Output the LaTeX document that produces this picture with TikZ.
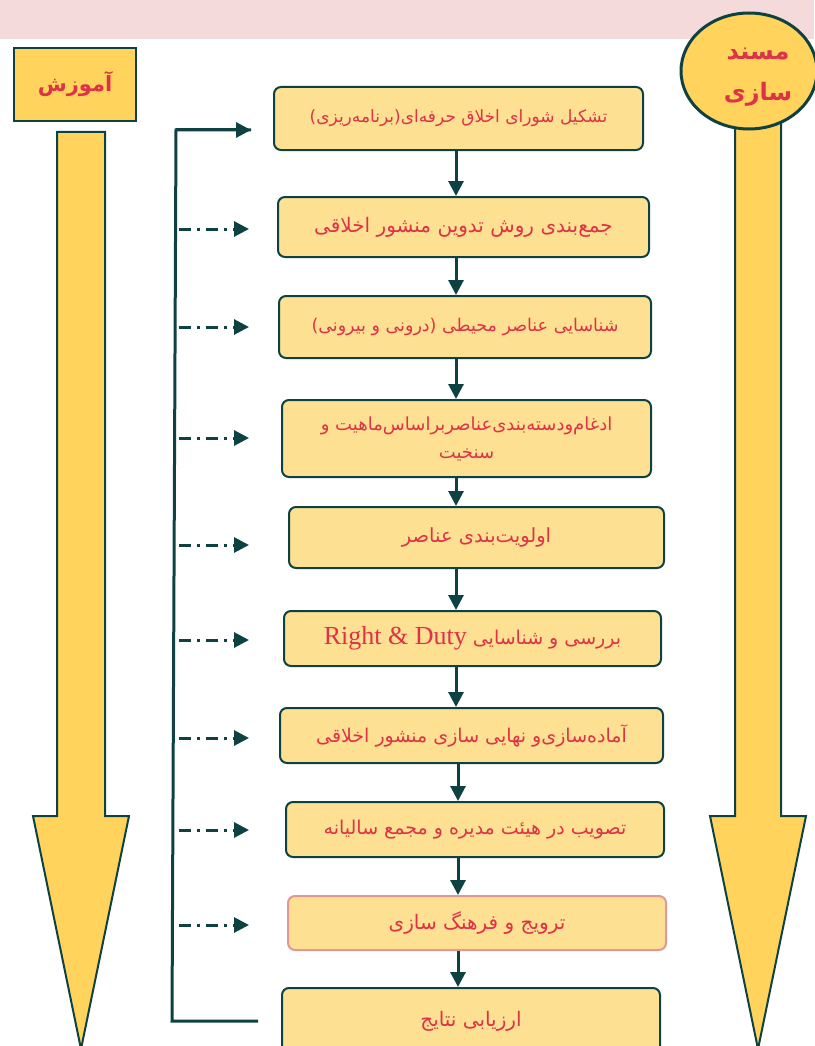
\documentclass[tikz,border=0pt]{standalone}
\usepackage{fontspec}
\usetikzlibrary{arrows.meta,shapes.geometric}
\TeXXeTstate=1
\newfontfamily\fa[Script=Arabic]{DejaVu Sans}
\newfontfamily\lat{Liberation Serif}
\definecolor{band}{RGB}{244,218,219}
\definecolor{boxfill}{RGB}{253,224,146}
\definecolor{bigfill}{RGB}{255,211,92}
\definecolor{edge}{RGB}{14,66,66}
\definecolor{txt}{RGB}{222,50,72}
\definecolor{pinkedge}{RGB}{226,150,150}
\newcommand{\fs}[1]{\fontsize{#1}{28}\selectfont}
\tikzset{
  stepbox/.style={draw=edge, line width=2pt, fill=boxfill, rounded corners=7pt,
    text=txt, font=\fa\fs{18}, align=center, inner sep=2pt},
  flow/.style={draw=edge, line width=3pt, -{Triangle[length=15pt,width=15pt]}},
  side/.style={draw=edge, line width=3pt, dash pattern=on 12pt off 6pt on 3pt off 6pt, -{Triangle[length=15pt,width=15pt]}},
  bracket/.style={draw=edge, line width=3pt},
  bigarrow/.style={draw=edge, line width=2pt, fill=bigfill, line join=miter},
}
\begin{document}
\begin{tikzpicture}[x=1pt,y=-1pt]
\useasboundingbox (0,0) rectangle (814,1046);
\fill[band] (0,0) rectangle (814,39);

% big arrows
\path[bigarrow] (57,132) -- (105,132) -- (105,816) -- (129,816) -- (81,1049) -- (33,816) -- (57,816) -- cycle;
\path[bigarrow] (735,100) -- (781,100) -- (781,816) -- (806,816) -- (758,1049) -- (710,816) -- (735,816) -- cycle;

% title boxes
\node[draw=edge, line width=2pt, fill=bigfill, minimum width=122pt, minimum height=73pt, text=txt,
  font=\fa\bfseries\fontsize{21}{24}\selectfont] (edu) at (75,84.5) {\beginR آموزش\endR};
\node[ellipse, draw=edge, line width=3pt, fill=bigfill, minimum width=136pt, minimum height=116pt,
  inner sep=0pt] (ins) at (749,71) {};
\node[text=txt, font=\fa\bfseries\fontsize{24}{41}\selectfont, align=center, inner sep=0pt] (insl) at (758,77)
  {\beginR مسند\endR\\\beginR سازی\endR};

% steps
\node[stepbox, font=\fa\fs{17}, minimum width=369pt, minimum height=63pt] (b1) at (458.5,118.5)
  {\beginR تشکیل شورای اخلاق حرفه‌ای(برنامه‌ریزی)\endR};
\node[stepbox, font=\fa\fs{20}, minimum width=371pt, minimum height=60pt] (b2) at (463.5,227)
  {\beginR جمع‌بندی روش تدوین منشور اخلاقی\endR};
\node[stepbox, font=\fa\fs{17.5}, minimum width=372pt, minimum height=62pt] (b3) at (465,327)
  {\beginR شناسایی عناصر محیطی (درونی و  بیرونی)\endR};
\node[stepbox, minimum width=369pt, minimum height=77pt] (b4) at (466.5,438.5)
  {\beginR ادغام‌ودسته‌بندی‌عناصربراساس‌ماهیت و\endR\\\beginR سنخیت\endR};
\node[stepbox, font=\fa\fs{19.5}, minimum width=375pt, minimum height=61pt] (b5) at (476.5,537.5)
  {\beginR اولویت‌بندی عناصر\endR};
\node[stepbox, font=\fa\fs{19}, minimum width=377pt, minimum height=55pt] (b6) at (472.5,638.5)
  {\beginR بررسی و شناسایی \beginL{\lat\fontsize{26}{28}\selectfont Right \& Duty}\endL\endR};
\node[stepbox, font=\fa\fs{19}, minimum width=383pt, minimum height=55pt] (b7) at (471.5,735.5)
  {\beginR آماده‌سازی‌و نهایی سازی منشور اخلاقی\endR};
\node[stepbox, font=\fa\fs{19}, minimum width=378pt, minimum height=55pt] (b8) at (475,829.5)
  {\beginR تصویب  در هیئت  مدیره  و  مجمع سالیانه\endR};
\node[stepbox, font=\fa\fs{20}, draw=pinkedge, minimum width=378pt, minimum height=54pt] (b9) at (477,923)
  {\beginR ترویج و فرهنگ سازی\endR};
\node[stepbox, font=\fa\fs{20}, minimum width=378pt, minimum height=66pt] (b10) at (471,1021)
  {\beginR ارزیابی نتایج\endR};

% vertical flow arrows
\coordinate (xa) at (456,0);
\coordinate (xb) at (458,0);
\draw[flow] (b1.south -| xa) -- (b2.north -| xa);
\draw[flow] (b2.south -| xa) -- (b3.north -| xa);
\draw[flow] (b3.south -| xa) -- (b4.north -| xa);
\draw[flow] (b4.south -| xa) -- (b5.north -| xa);
\draw[flow] (b5.south -| xa) -- (b6.north -| xa);
\draw[flow] (b6.south -| xa) -- (b7.north -| xa);
\draw[flow] (b7.south -| xb) -- (b8.north -| xb);
\draw[flow] (b8.south -| xb) -- (b9.north -| xb);
\draw[flow] (b9.south -| xb) -- (b10.north -| xb);

% left bracket
\coordinate (ltop) at (176,130);
\coordinate (lbot) at (172,1021);
\coordinate (ttip) at (251,130);
\coordinate (bend) at (258,1021);
\draw[bracket] (ttip) -- (ltop) -- (lbot) -- (bend);
\draw[flow] (ltop) -- (ttip);

% dash-dot feed arrows
\foreach \n/\yy in {s2/229, s3/327, s4/438, s5/545, s6/640, s7/738, s8/830, s9/925}{
  \coordinate (\n a) at (179,\yy);
  \coordinate (\n b) at (249,\yy);
  \draw[side] (\n a) -- (\n b);
}
\end{tikzpicture}
\end{document}
